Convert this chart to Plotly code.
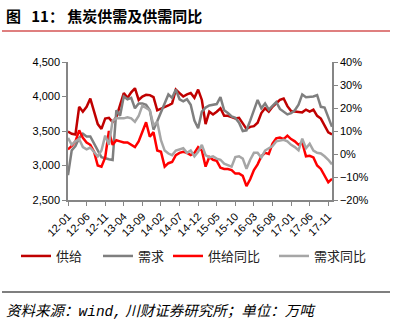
import plotly.graph_objects as go

# months 2012-01 .. 2017-12
months = [f"{y % 100:02d}-{m:02d}" for y in range(2012, 2018) for m in range(1, 13)]
tick_labels = ["12-01", "12-06", "12-11", "13-04", "13-09", "14-02", "14-07", "14-12",
               "15-05", "15-10", "16-03", "16-08", "17-01", "17-06", "17-11"]

supply = [3490, 3460, 3450, 3850, 3780, 3850, 3970, 3800, 3600, 3530,
          3680, 3690, 3630, 3700, 3880, 4050, 3980, 4060, 4120, 3950,
          4000, 4025, 4020, 3990, 3800, 3820, 3840, 3870, 3900, 4100,
          4050, 4000, 4030, 4050, 3980, 4100, 3950, 3600, 3780, 3740,
          3780, 3830, 3720, 3720, 3700, 3680, 3690, 3600, 3530, 3560,
          3570, 3620, 3760, 3830, 3780, 3850, 3900, 3950, 3970, 3860,
          3790, 3780, 3770, 3770, 3810, 3780, 3810, 3720, 3680, 3590,
          3480, 3450]

demand = [2860, 3220, 3280, 3400, 3460, 3420, 3420, 3330, 3220, 3120,
          3100, 3090, 3080, 3800, 3720, 4000, 3960, 3980, 3830, 3900,
          3900, 3880, 3800, 3520, 3640, 3780, 3900, 4030, 3980, 4100,
          3960, 3930, 3960, 3880, 3650, 3540, 3780, 3840, 3870, 3880,
          3890, 3990, 3800, 3760, 3710, 3690, 3620, 3500, 3510, 3650,
          3800, 3950, 3830, 3900, 3810, 3860, 3920, 3820, 3780, 3740,
          3760, 3800, 3880, 4030, 3990, 3990, 4000, 4020, 3850, 3840,
          3700, 3560]

supply_yoy = [2.0, 3.5, 5.5, 10.3, 7.0, 5.0, 4.0, 1.0, -5.0, -5.5,
              -1.5, 10.0, 4.0, 6.0, 5.5, 5.0, 5.0, 4.0, 3.0, 5.5,
              9.5, 13.8, 7.5, 9.5, 1.5, 1.0, -5.5, -4.0, -3.5, -0.5,
              0.5, 1.0, 0.5, -0.5, 0.5, 3.0, 1.5, -5.5, -1.3, -2.5,
              -3.0, -6.0, -6.5, -6.5, -7.0, -8.5, -8.5, -9.5, -14.0, -11.0,
              -7.0, -4.5, -1.0, 0.5, 0.0, 4.5, 6.8, 7.2, 6.5, 8.0,
              6.5, 5.5, 4.0, 5.0, -1.0, -0.8, -1.5, -5.0, -6.5, -9.5,
              -12.3, -10.8]

demand_yoy = [7.0, 4.0, 5.5, 6.5, 3.0, 2.0, 2.8, 1.0, -1.0, 1.5,
              8.0, 4.0, 14.5, 15.5, 15.5, 15.5, 16.0, 15.5, 14.0, 16.5,
              21.0, 20.0, 19.0, 12.5, 14.0, 6.0, 1.5, 0.2, -0.5, 1.5,
              2.0, 2.5, 0.5, 1.5, -1.0, 1.0, 4.0, -0.5, -1.5, -1.0,
              -2.0, -2.5, -4.2, -5.0, -5.5, -1.3, -1.0, -2.0, -6.4, -2.5,
              0.5, 0.5, -1.5, 1.5, 2.4, 3.5, 5.5, 6.0, 6.2, 5.5,
              4.0, 3.0, 1.6, 6.7, 2.5, 4.5, 1.5, 0.5, 0.2, -1.0,
              -2.5, -4.5]

names = ["供给", "需求", "供给同比", "需求同比"]
colors = ["#C00000", "#7F7F7F", "#FF0000", "#A6A6A6"]

FONT = "Noto Sans CJK SC"
AX = "#868686"
L, R, T, B = 68, 67, 62, 123
W, H = 399, 323
PW, PH = W - L - R, H - T - B


def px(x):
    return (x - L) / PW


def py(y):
    return (H - B - y) / PH


fig = go.Figure()
fig.add_trace(go.Scatter(x=months, y=supply, name=names[0], mode="lines",
                         line=dict(color=colors[0], width=2.5), legend="legend"))
fig.add_trace(go.Scatter(x=months, y=demand, name=names[1], mode="lines",
                         line=dict(color=colors[1], width=2.5), legend="legend"))
fig.add_trace(go.Scatter(x=months, y=supply_yoy, name=names[2], mode="lines",
                         line=dict(color=colors[2], width=2.5), yaxis="y2", legend="legend2"))
fig.add_trace(go.Scatter(x=months, y=demand_yoy, name=names[3], mode="lines",
                         line=dict(color=colors[3], width=2.5), yaxis="y2", legend="legend2"))

legfont = dict(family=FONT, size=13, color="#222222")
tickfont = dict(family="Liberation Sans", size=11, color="#000000")

fig.update_layout(
    width=W, height=H,
    margin=dict(l=L, r=R, t=T, b=B),
    paper_bgcolor="white", plot_bgcolor="white",
    font=dict(family=FONT, size=11, color="#000000"),
    showlegend=True,
    legend=dict(orientation="h", x=px(16), xanchor="left", y=py(256), yanchor="middle",
                font=legfont, entrywidth=37, entrywidthmode="pixels",
                bgcolor="rgba(0,0,0,0)", itemclick=False),
    legend2=dict(orientation="h", x=px(168), xanchor="left", y=py(256), yanchor="middle",
                 font=legfont, entrywidth=61, entrywidthmode="pixels",
                 bgcolor="rgba(0,0,0,0)", itemclick=False),
    xaxis=dict(type="category", range=[0, 71], tickmode="array",
               tickvals=tick_labels, ticktext=tick_labels, tickangle=-45,
               showline=True, linecolor=AX, linewidth=1.5, ticks="outside",
               tickcolor=AX, ticklen=4, showgrid=False, zeroline=False,
               tickfont=tickfont),
    yaxis=dict(range=[2500, 4500], dtick=500, tickformat=",", showline=True,
               linecolor=AX, linewidth=1.5, ticks="outside", tickcolor=AX, ticklen=4,
               showgrid=False, zeroline=False, tickfont=tickfont),
    yaxis2=dict(range=[-20, 40], dtick=10, ticksuffix="%", overlaying="y", side="right",
                showline=True, linecolor=AX, linewidth=1.5, ticks="outside", tickcolor=AX,
                ticklen=4, showgrid=False, zeroline=False, tickfont=tickfont),
)

# title & rules
fig.add_annotation(text="<b>图&nbsp;&nbsp;&nbsp;11：&nbsp;焦炭供需及供需同比</b>", xref="paper", yref="paper",
                   x=px(4), y=py(15), xanchor="left", yanchor="middle",
                   showarrow=False, font=dict(family=FONT, size=15, color="#000000"))
fig.add_shape(type="line", xref="paper", yref="paper", x0=px(2), x1=px(390),
              y0=py(31), y1=py(31), line=dict(color="#C00000", width=1.2))
fig.add_shape(type="line", xref="paper", yref="paper", x0=px(2), x1=px(390),
              y0=py(292), y1=py(292), line=dict(color="#000000", width=1.2))
fig.add_annotation(
    text="<i>资料来源：<span style=\"font-family:Liberation Mono\">wind,</span>&nbsp;川财证券研究所；单位：万吨</i>",
    xref="paper", yref="paper", x=px(4), y=py(309), xanchor="left", yanchor="middle",
    showarrow=False, font=dict(family=FONT, size=14.5, color="#000000"))

fig.write_html("out.html")
